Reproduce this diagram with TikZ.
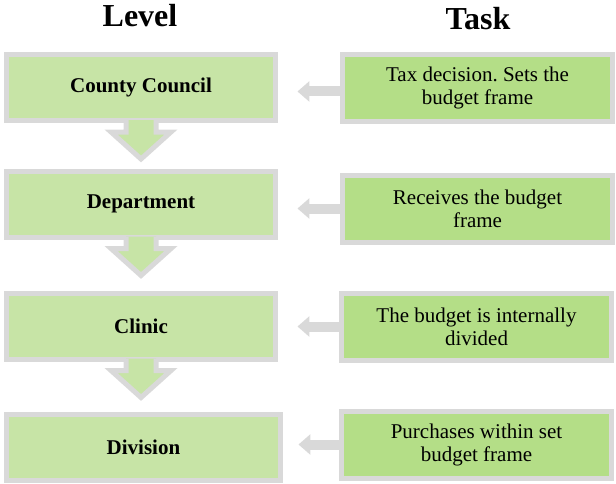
\documentclass[tikz,border=0pt]{standalone}
\usepackage{fontspec}
\setmainfont{Liberation Serif}
\usetikzlibrary{arrows.meta}
\frenchspacing

\tikzset{every picture/.style={line width=0.75pt}}
\tikzset{
  lvlbox/.style={draw={rgb, 255:red, 217; green, 217; blue, 217 }, line width=3.75pt, fill={rgb, 255:red, 199; green, 228; blue, 166 }, minimum width=201.75pt, minimum height=49.5pt, inner sep=0pt, font=\fontsize{15.75pt}{18pt}\selectfont\bfseries},
  taskbox/.style={draw={rgb, 255:red, 217; green, 217; blue, 217 }, line width=3.75pt, fill={rgb, 255:red, 180; green, 222; blue, 135 }, minimum width=202.5pt, minimum height=50.25pt, inner sep=0pt, align=center, font=\fontsize{15.75pt}{17.25pt}\selectfont},
  colhead/.style={anchor=base, inner sep=0pt, font=\fontsize{24pt}{28pt}\selectfont\bfseries},
  feedarrow/.style={draw={rgb, 255:red, 217; green, 217; blue, 217 }, line width=7.5pt, -{Triangle[length=9pt,width=15pt]}, shorten >=14.6pt},
  flowfill/.style={fill={rgb, 255:red, 199; green, 228; blue, 166 }},
  flowline/.style={draw={rgb, 255:red, 217; green, 217; blue, 217 }, line width=3.75pt}
}

\begin{document}
\begin{tikzpicture}[x=0.75pt,y=0.75pt,yscale=-1,xscale=1]
\path[use as bounding box] (0,0) rectangle (616,483); %set diagram to 616 x 483

% Text Node
\node[colhead] (hlevel) at (140,26) {Level};
% Text Node
\node[colhead] (htask) at (478,29) {Task};

%Shape: Rectangle [level boxes]
\node[lvlbox] (l1) at (141,87.5) {County Council};
\node[lvlbox] (l2) at (141,204) {Department};
\node[lvlbox] (l3) at (141,326) {Clinic};
\node[lvlbox, minimum width=205.5pt] (l4) at (143.5,447.5) {Division};

%Shape: Rectangle [task boxes]
\node[taskbox] (r1) at (477.5,88) {Tax decision. Sets the\\budget frame};
\node[taskbox] (r2) at (477.5,208.5) {Receives the budget\\frame};
\node[taskbox] (r3) at (476.5,326.5) {The budget is internally\\divided};
\node[taskbox] (r4) at (476.5,444.5) {Purchases within set\\budget frame};

%Shape: Down Arrow [l1 to l2]
\fill[flowfill, shift={(l1.south)}] (-15,-3) -- (-15,9) -- (-30,9) -- (0,36) -- (30,9) -- (15,9) -- (15,-3) -- cycle ;
\draw[flowline, shift={(l1.south)}] (-15,-3) -- (-15,9) -- (-30,9) -- (0,36) -- (30,9) -- (15,9) -- (15,-3) ;
%Shape: Down Arrow [l2 to l3]
\fill[flowfill, shift={(l2.south)}] (-15,-3) -- (-15,9) -- (-30,9) -- (0,36) -- (30,9) -- (15,9) -- (15,-3) -- cycle ;
\draw[flowline, shift={(l2.south)}] (-15,-3) -- (-15,9) -- (-30,9) -- (0,36) -- (30,9) -- (15,9) -- (15,-3) ;
%Shape: Down Arrow [l3 to l4]
\fill[flowfill, shift={(l3.south)}] (-15,-3) -- (-15,9) -- (-30,9) -- (0,36) -- (30,9) -- (15,9) -- (15,-3) -- cycle ;
\draw[flowline, shift={(l3.south)}] (-15,-3) -- (-15,9) -- (-30,9) -- (0,36) -- (30,9) -- (15,9) -- (15,-3) ;

%Straight Lines [task to level]
\draw[feedarrow] ([yshift=2.6pt]r1.west) -- ([yshift=2.6pt]r1.west -| l1.east) ;
\draw[feedarrow] (r2.west) -- (r2.west -| l2.east) ;
\draw[feedarrow] (r3.west) -- (r3.west -| l3.east) ;
\draw[feedarrow, shorten >=11.6pt] (r4.west) -- (r4.west -| l4.east) ;

\end{tikzpicture}
\end{document}
